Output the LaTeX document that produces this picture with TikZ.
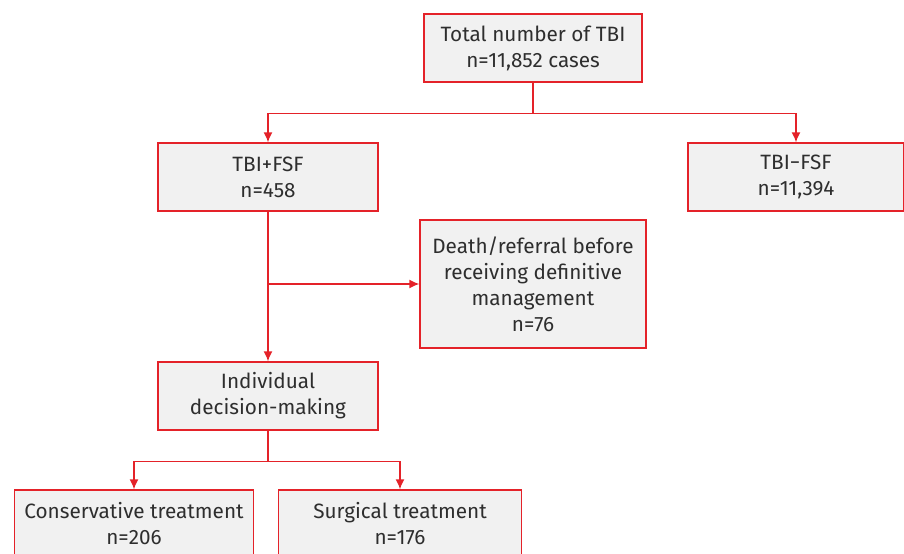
\documentclass[tikz,border=0pt]{standalone}
\usepackage{fontspec}
\setmainfont{Fira Sans}
\usetikzlibrary{positioning,arrows.meta}

\definecolor{flowred}{HTML}{E42229}
\definecolor{boxgray}{HTML}{F1F1F1}
\definecolor{txtgray}{HTML}{2E2E2E}

\begin{document}
\begin{tikzpicture}
  [->,
   >={Latex[length=2mm, width=1.8mm]},
   x=0.02cm, y=-0.02cm,
   line width=0.8pt,
   flowred,
   box/.style={rectangle, draw=flowred, fill=boxgray, text=txtgray,
               align=center, inner sep=0pt, minimum height=1.36cm,
               font=\fontsize{11.8}{14.8}\selectfont}
  ]
  \useasboundingbox (0,0) rectangle (904,554);

  \node[box, minimum width=4.36cm] (total) at (533,48)  {Total number of TBI\\n=11,852 cases};
  \node[box, minimum width=4.4cm]  (pos)   at (268,177) {TBI+FSF\\n=458};
  \node[box, minimum width=4.32cm] (neg)   at (796,177) {TBI−FSF\\n=11,394};
  \node[box, minimum width=4.52cm, minimum height=2.56cm]
                                   (death) at (533,284) {Death/referral before\\receiving definitive\\management\\n=76};
  \node[box, minimum width=4.4cm]  (indiv) at (268,396) {Individual\\decision-making};
  \node[box, minimum width=4.78cm] (cons)  at (134,524) {Conservative treatment\\n=206};
  \node[box, minimum width=4.86cm] (surg)  at (400,524) {Surgical treatment\\n=176};

  % split after the total
  \draw (total.south) -- ++(0,31) coordinate (s1) -| (pos.north);
  \draw (s1) -| (neg.north);

  % TBI+FSF branch
  \draw (pos.south) -- (indiv.north);
  \draw (pos.south |- death.west) -- (death.west);

  % treatment split
  \draw (indiv.south) -- ++(0,31) coordinate (s2) -| (cons.north);
  \draw (s2) -| (surg.north);
\end{tikzpicture}
\end{document}
